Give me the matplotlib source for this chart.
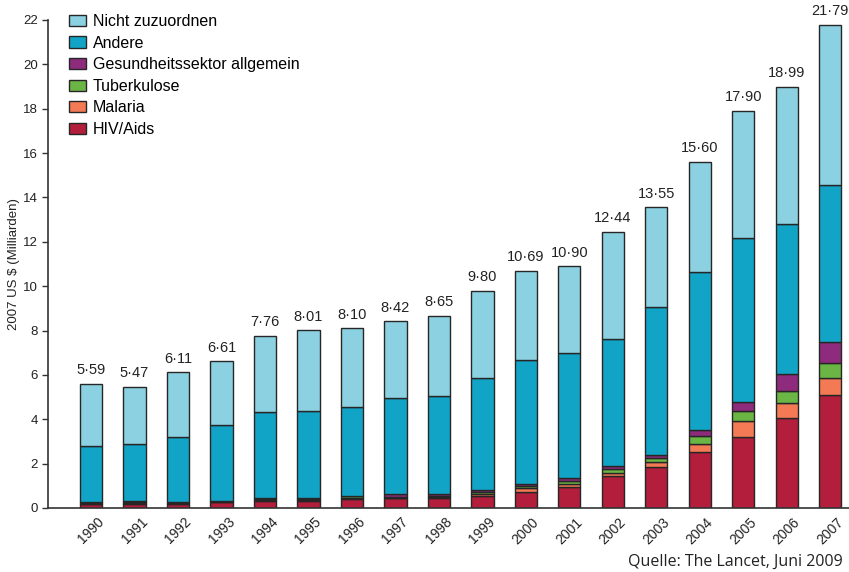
import matplotlib
matplotlib.use("Agg")
import matplotlib.pyplot as plt
import numpy as np

years = [str(y) for y in range(1990, 2008)]
hiv = [0.18, 0.20, 0.16, 0.25, 0.32, 0.33, 0.42, 0.45, 0.43, 0.54, 0.72, 0.94, 1.43, 1.86, 2.51, 3.19, 4.05, 5.08]
malaria = [0.02, 0.02, 0.05, 0.01, 0.03, 0.02, 0.05, 0.02, 0.06, 0.10, 0.18, 0.14, 0.16, 0.21, 0.39, 0.75, 0.68, 0.77]
tb = [0.04, 0.06, 0.03, 0.05, 0.05, 0.04, 0.05, 0.04, 0.06, 0.08, 0.10, 0.14, 0.15, 0.18, 0.36, 0.43, 0.56, 0.68]
health = [0.03, 0.03, 0.02, 0.02, 0.04, 0.08, 0.04, 0.11, 0.08, 0.10, 0.10, 0.13, 0.15, 0.15, 0.26, 0.42, 0.77, 0.95]
andere = [2.54, 2.58, 2.94, 3.42, 3.88, 3.91, 3.99, 4.35, 4.40, 5.03, 5.58, 5.62, 5.74, 6.65, 7.12, 7.39, 6.75, 7.06]
nicht = [2.78, 2.58, 2.91, 2.86, 3.44, 3.63, 3.55, 3.45, 3.62, 3.95, 4.01, 3.93, 4.81, 4.50, 4.96, 5.72, 6.18, 7.25]
totals = [5.59, 5.47, 6.11, 6.61, 7.76, 8.01, 8.10, 8.42, 8.65, 9.80, 10.69, 10.90, 12.44, 13.55, 15.60, 17.90, 18.99, 21.79]

series = [
    ("HIV/Aids", hiv, "#B21E3B"),
    ("Malaria", malaria, "#F47A55"),
    ("Tuberkulose", tb, "#6BB545"),
    ("Gesundheitssektor allgemein", health, "#8E2B7D"),
    ("Andere", andere, "#12A4C7"),
    ("Nicht zuzuordnen", nicht, "#8CD1E1"),
]

plt.rcParams['font.family'] = ['Liberation Sans', 'DejaVu Sans']

fig = plt.figure(figsize=(8.49, 5.72), dpi=100)
ax = fig.add_axes([48/849, 1-508/572, 1-48/849, (508-20)/572])

x = np.arange(len(years))
bottom = np.zeros(len(years))
handles = []
for name, vals, col in series:
    b = ax.bar(x, vals, width=0.51, bottom=bottom, color=col, edgecolor="#262626",
               linewidth=1.0, label=name, zorder=2)
    handles.append(b)
    bottom = bottom + np.array(vals)

for xi, t in zip(x, totals):
    ax.text(xi, t + 0.3, f"{t:.2f}".replace(".", "·"), ha="center", va="bottom",
            fontsize=10.5, color="#222222", clip_on=False)

ax.set_xlim(-0.99, 17.43)
ax.set_ylim(0, 22)
ax.set_yticks(range(0, 23, 2))
ax.tick_params(axis="y", labelsize=9.5, length=4, width=1, color="#333333", labelcolor="#222222")
ax.set_xticks(x)
ax.set_xticklabels(years, rotation=45, ha="center", fontsize=10, color="#222222")
ax.tick_params(axis="x", length=0, pad=5)
for s in ["top", "right"]:
    ax.spines[s].set_visible(False)
for s in ["left", "bottom"]:
    ax.spines[s].set_color("#333333")
    ax.spines[s].set_linewidth(1.2)

ax.set_ylabel("2007 US $ (Milliarden)", fontsize=9.5, color="#222222", labelpad=2)

leg = ax.legend(handles[::-1], [s[0] for s in series][::-1], loc="upper left",
                bbox_to_anchor=(0.012, 1.035), frameon=False, fontsize=11.5,
                handlelength=1.1, handleheight=0.7, handletextpad=0.4,
                labelspacing=0.41, borderaxespad=0.3)

fig.text(628/849, 1-562/572, "Quelle: The Lancet, Juni 2009", fontsize=11.5,
         family=["Open Sans", "DejaVu Sans"], color="#222222", ha="left", va="center")

fig.savefig("out.png", dpi=100)
